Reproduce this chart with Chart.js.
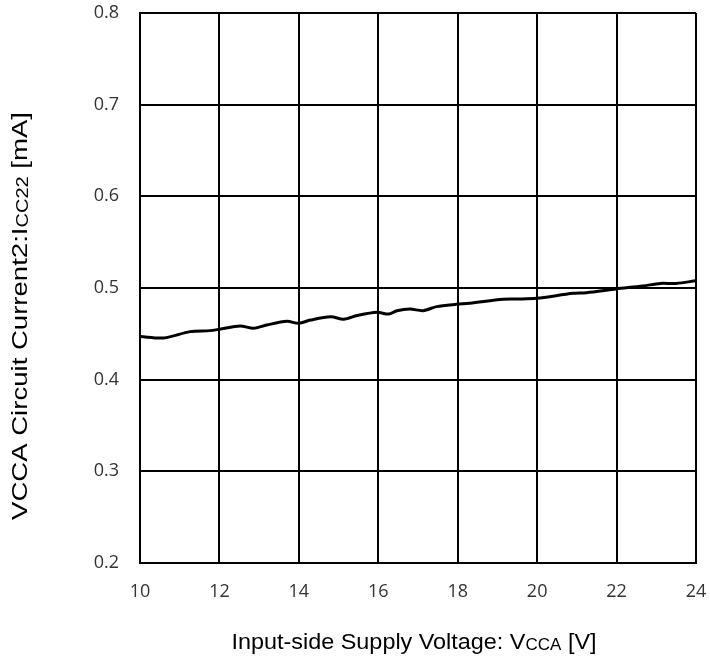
<!DOCTYPE html>
<html>
<head>
<meta charset="utf-8">
<script src="https://cdn.jsdelivr.net/npm/chart.js@4/dist/chart.umd.min.js"></script>
<style>
  html, body { margin: 0; padding: 0; background: #fff; }
  #wrap { width: 710px; height: 662px; }
</style>
</head>
<body>
<div id="wrap"><canvas id="chart" width="710" height="662"></canvas></div>
<script>
// Supply voltage [V] and circuit current [mA]
const voltage = [10, 10.6, 11.26, 11.76, 12, 12.52, 12.86, 13.19, 13.7, 14, 14.29, 14.8, 15.13,
    15.47, 15.97, 16.26, 16.47, 16.8, 17.13, 17.47, 17.97, 18.3, 19.14, 19.48, 19.98, 20.9,
    21.24, 21.99, 22.66, 23.1, 23.5, 24];
const current = [0.447, 0.4455, 0.4524, 0.4535, 0.455, 0.4586, 0.456, 0.4596, 0.4636, 0.4615, 0.465,
    0.4687, 0.466, 0.470, 0.4735, 0.4716, 0.4752, 0.477, 0.4753, 0.4797, 0.4822, 0.4833, 0.4877,
    0.488, 0.4887, 0.4942, 0.4949, 0.499, 0.5022, 0.505, 0.505, 0.508];

const xTicks = [10, 12, 14, 16, 18, 20, 22, 24];
const yTicks = [0.2, 0.3, 0.4, 0.5, 0.6, 0.7, 0.8];

const xTitle = [['Input-side Supply Voltage: V', false], ['CCA', true], [' [V]', false]];
const yTitle = [['VCCA Circuit Current2:I', false], ['CC22', true], [' [mA]', false]];

// draw a title with subscript parts, centred on (cx, cy), stretched to a given length
function drawRich(ctx, parts, cx, cy, angle, len) {
    const size = 22;
    const mainFont = size + 'px "Liberation Sans", Arial, sans-serif';
    const subFont = Math.round(size * 0.72) + 'px "Liberation Sans", Arial, sans-serif';
    let total = 0;
    parts.forEach(p => { ctx.font = p[1] ? subFont : mainFont; total += ctx.measureText(p[0]).width; });
    ctx.save();
    ctx.translate(cx, cy);
    ctx.rotate(angle);
    ctx.scale(len / total, 1);
    ctx.fillStyle = '#000';
    ctx.textBaseline = 'middle';
    ctx.textAlign = 'left';
    let x = -total / 2;
    parts.forEach(p => {
        ctx.font = p[1] ? subFont : mainFont;
        ctx.fillText(p[0], x, p[1] ? 3 : 0);
        x += ctx.measureText(p[0]).width;
    });
    ctx.restore();
}

const titlePlugin = {
    id: 'titles',
    afterDraw(chart) {
        drawRich(chart.ctx, xTitle, 414, 643, 0, 365);
        drawRich(chart.ctx, yTitle, 21, 316, -Math.PI / 2, 408);
    }
};

const tickFont = { family: '"Open Sans", "Noto Sans", sans-serif', size: 18 };

new Chart(document.getElementById('chart'), {
    type: 'scatter',
    data: {
        datasets: [{
            data: voltage.map((v, i) => ({ x: v, y: current[i] })),
            showLine: true,
            borderColor: '#000',
            borderWidth: 3,
            pointRadius: 0,
            tension: 0.3
        }]
    },
    options: {
        responsive: false,
        animation: false,
        layout: { padding: { top: 13, right: 14, left: 0, bottom: 0 } },
        plugins: { legend: { display: false }, tooltip: { enabled: false } },
        scales: {
            x: {
                type: 'linear',
                min: 10, max: 24,
                afterBuildTicks: s => { s.ticks = xTicks.map(v => ({ value: v })); },
                afterFit: s => { s.height = 99; s.paddingLeft = 0; s.paddingRight = 0; },
                ticks: { font: tickFont, color: '#333', padding: 18, maxRotation: 0 },
                grid: { color: '#000', lineWidth: 2, drawTicks: false },
                border: { color: '#000', width: 2 }
            },
            y: {
                min: 0.2, max: 0.8,
                afterBuildTicks: s => { s.ticks = yTicks.map(v => ({ value: v })); },
                afterFit: s => { s.width = 140; s.paddingTop = 0; s.paddingBottom = 0; },
                ticks: { font: tickFont, color: '#333', padding: 21, callback: v => v.toFixed(1) },
                grid: { color: '#000', lineWidth: 2, drawTicks: false },
                border: { color: '#000', width: 2 }
            }
        }
    },
    plugins: [titlePlugin]
});
</script>
</body>
</html>
